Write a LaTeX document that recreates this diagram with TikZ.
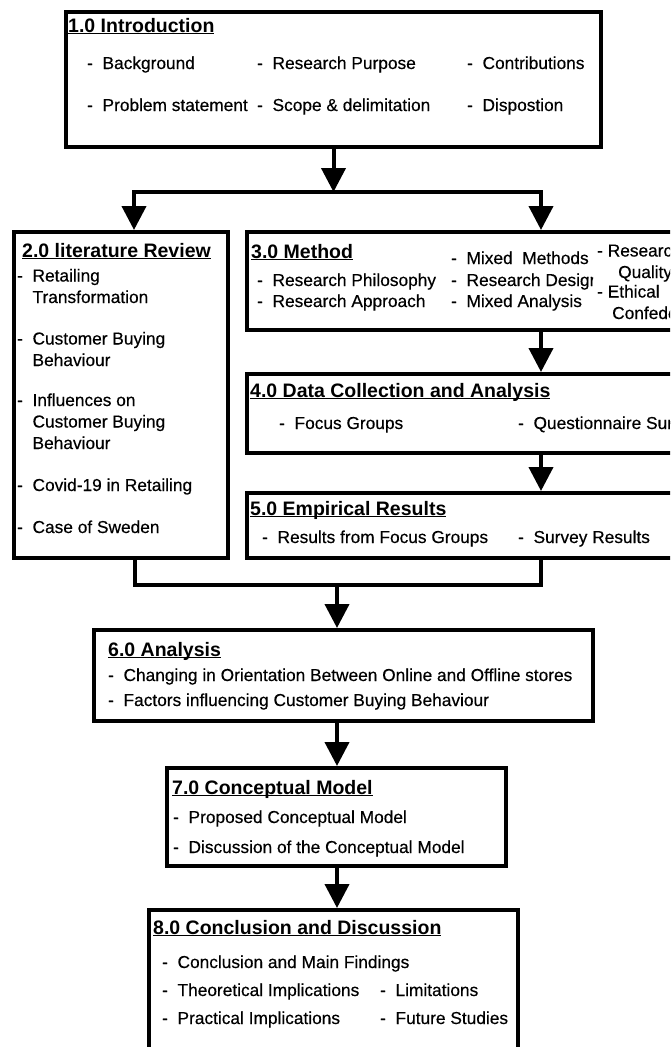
\documentclass[tikz,border=0pt]{standalone}
\usepackage{fontspec}
\setmainfont{Liberation Sans}
\newfontfamily\itemfam[FakeBold=0.4]{Liberation Sans}
\usetikzlibrary{arrows.meta}
\newcommand{\itemfont}{\itemfam\fontsize{17.3}{21.5}\selectfont}
\newcommand{\headfont}{\fontsize{19.5}{23}\selectfont\bfseries}
\newcommand{\chapterhead}[1]{\underline{\smash{#1}}}

\begin{document}
\begin{tikzpicture}[x=1pt, y=-1pt,
      box/.style={draw, line width=4pt, inner sep=0pt},
      head/.style={anchor=base west, inner sep=0pt, font=\headfont},
      item/.style={anchor=base west, inner sep=0pt, align=left,
        font=\itemfont},
      link/.style={line width=4pt, line cap=rect},
      arr/.style={line width=4pt, -{Triangle[width=24pt,length=24pt]}}]
  \useasboundingbox (0,0) rectangle (670,1047);
  \clip (0,0) rectangle (670,1047);

  % boxes
  \node[box, minimum width=535pt, minimum height=135pt] (intro) at (333.5,79.5) {};
  \node[box, minimum width=214pt, minimum height=326pt] (litrev) at (121,395) {};
  \node[box, minimum width=473pt, minimum height=98pt] (method) at (483.5,281) {};
  \node[box, minimum width=473pt, minimum height=79pt] (datacoll) at (483.5,413.5) {};
  \node[box, minimum width=473pt, minimum height=65pt] (results) at (483.5,525.5) {};
  \node[box, minimum width=499pt, minimum height=91pt] (analysis) at (343.5,675.5) {};
  \node[box, minimum width=339pt, minimum height=98pt] (concept) at (336.5,817) {};
  \node[box, minimum width=369pt, minimum height=160pt] (conclusion) at (333.5,990) {};

  % connectors
  \coordinate (litin) at (134,192);
  \coordinate (methin) at (541,192);
  \coordinate (litout) at (135,585);
  \coordinate (resout) at (541,585);
  \coordinate (merge) at (337,585);
  \draw[arr] (intro.south) -- (intro.south |- litin);
  \draw[link] (litin) -- (methin);
  \draw[arr] (litin) -- (litin |- litrev.north);
  \draw[arr] (methin) -- (methin |- method.north);
  \draw[arr] (methin |- method.south) -- (methin |- datacoll.north);
  \draw[arr] (methin |- datacoll.south) -- (methin |- results.north);
  \draw[link] (litout |- litrev.south) -- (litout) -- (resout) -- (resout |- results.south);
  \draw[arr] (merge) -- (merge |- analysis.north);
  \draw[arr] (merge |- analysis.south) -- (merge |- concept.north);
  \draw[arr] (merge |- concept.south) -- (merge |- conclusion.north);

  % 1.0
  \node[head] (introtitle) at (68,32) {\chapterhead{1.0 Introduction}};
  \node[item] (background) at (87,69) {-~~Background};
  \node[item] (purpose) at (257,69) {-~~Research Purpose};
  \node[item] (contrib) at (467,69) {-~~Contributions};
  \node[item] (problem) at (87,111) {-~~Problem statement};
  \node[item] (scope) at (257,111) {-~~Scope \& delimitation};
  \node[item] (dispo) at (467,111) {-~~Dispostion};

  % 2.0 (multi-line items sit on their last line)
  \node[head] (littitle) at (22,257) {\chapterhead{2.0 literature Review}};
  \node[item] (retail) at (17,303) {-~~Retailing\\\phantom{-~~}Transformation};
  \node[item] (buying) at (17,366) {-~~Customer Buying\\\phantom{-~~}Behaviour};
  \node[item] (influence) at (17,449) {-~~Influences on\\\phantom{-~~}Customer Buying\\\phantom{-~~}Behaviour};
  \node[item] (covid) at (17,491) {-~~Covid-19 in Retailing};
  \node[item] (sweden) at (17,533) {-~~Case of Sweden};

  % 3.0
  \node[head] (methtitle) at (251,258) {\chapterhead{3.0 Method}};
  \node[item] (philo) at (257,286) {-~~Research Philosophy};
  \node[item] (approach) at (257,307) {-~~Research Approach};
  \begin{scope}
    \clip (445,240) rectangle (593,320);
    \node[item] (mixmeth) at (451,264) {-~~Mixed~~Methods};
    \node[item] (design) at (451,286) {-~~Research Design};
    \node[item] (mixanal) at (451,307) {-~~Mixed Analysis};
  \end{scope}
  \node[item] (quality) at (597,278) {-~Research\\\hspace*{21pt}Quality};
  \node[item] (ethics) at (597,319) {-~Ethical\\\hspace*{15pt}Confedentiality};

  % 4.0
  \node[head] (datatitle) at (250,397) {\chapterhead{4.0 Data Collection and Analysis}};
  \node[item] (focus) at (279,429) {-~~Focus Groups};
  \node[item] (survey) at (518,429) {-~~Questionnaire Survey};

  % 5.0
  \node[head] (restitle) at (250,515) {\chapterhead{5.0 Empirical Results}};
  \node[item] (focusres) at (262,543) {-~~Results from Focus Groups};
  \node[item] (surveyres) at (518,543) {-~~Survey Results};

  % 6.0
  \node[head] (analtitle) at (108,656) {\chapterhead{6.0 Analysis}};
  \node[item] (orient) at (108,681) {-~~Changing in Orientation Between Online and Offline stores};
  \node[item] (factors) at (108,706) {-~~Factors influencing Customer Buying Behaviour};

  % 7.0
  \node[head] (conctitle) at (172,794) {\chapterhead{7.0 Conceptual Model}};
  \node[item] (proposed) at (173,823) {-~~Proposed Conceptual Model};
  \node[item] (discuss) at (173,853) {-~~Discussion of the Conceptual Model};

  % 8.0
  \node[head] (endtitle) at (153,934) {\chapterhead{8.0 Conclusion and Discussion}};
  \node[item] (findings) at (162,968) {-~~Conclusion and Main Findings};
  \node[item] (theory) at (162,996) {-~~Theoretical Implications};
  \node[item] (practice) at (162,1024) {-~~Practical Implications};
  \node[item] (limits) at (380,996) {-~~Limitations};
  \node[item] (future) at (380,1024) {-~~Future Studies};
\end{tikzpicture}
\end{document}
